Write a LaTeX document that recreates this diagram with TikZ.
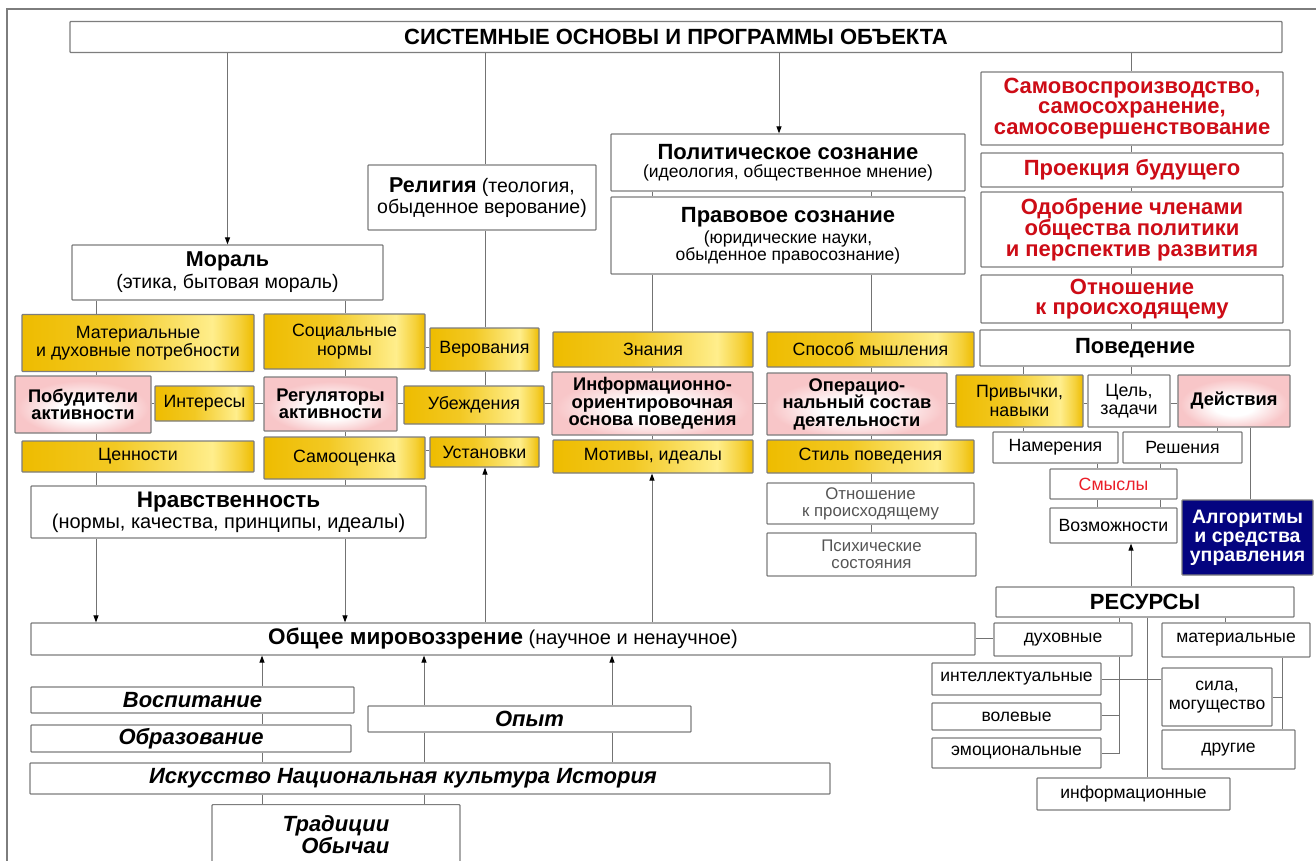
\documentclass[tikz,border=0pt]{standalone}
\usepackage{fontspec}
\setmainfont{Liberation Sans}
\usetikzlibrary{arrows.meta}
\definecolor{bordc}{RGB}{125,125,125}
\definecolor{linec}{RGB}{115,115,115}
\definecolor{goldA}{RGB}{238,188,0}
\definecolor{goldB}{RGB}{255,238,140}
\definecolor{pinkA}{RGB}{248,198,200}
\definecolor{redt}{RGB}{205,12,22}
\definecolor{reds}{RGB}{235,30,40}
\definecolor{navyc}{RGB}{4,4,128}
\definecolor{grayt}{RGB}{85,85,85}
\pgfdeclarehorizontalshading{goldsh}{100bp}{color(0bp)=(goldA); color(25bp)=(goldA); color(45bp)=(goldA!75!goldB); color(66bp)=(goldB); color(72bp)=(goldA!60!goldB); color(75bp)=(goldA); color(100bp)=(goldA)}
\pgfdeclareradialshading{pinksh}{\pgfpoint{0bp}{-6bp}}{color(0bp)=(white); color(9bp)=(white); color(24bp)=(pinkA); color(50bp)=(pinkA)}
\tikzset{
  base/.style={draw=bordc, line width=1.2pt, inner sep=1pt, align=center, text=black, rounded corners=0.8pt},
  wbox/.style={base, fill=white},
  gbox/.style={base, shading=goldsh},
  pbox/.style={base, shading=pinksh},
  nbox/.style={base, fill=navyc, text=white},
  ln/.style={draw=linec, line width=1pt},
  arr/.style={ln, -{Triangle[length=7pt,width=5pt,color=black]}},
  fA/.style={font=\fontsize{22}{23}\selectfont\bfseries},
  fB/.style={font=\fontsize{22}{20.5}\selectfont\bfseries},
  fG/.style={font=\fontsize{17.8}{18.5}\selectfont},
  fP/.style={font=\fontsize{18.3}{17.5}\selectfont\bfseries},
  fS/.style={font=\fontsize{17.7}{19}\selectfont},
  fT/.style={font=\fontsize{17.5}{19}\selectfont},
  fU/.style={font=\fontsize{16.8}{17}\selectfont},
  fI/.style={font=\fontsize{22}{20.5}\selectfont\bfseries\itshape},
}
\begin{document}
\begin{tikzpicture}[x=1pt,y=-1pt]
\useasboundingbox (0,0) rectangle (1316,861);
\clip (0,0) rectangle (1316,861);
\fill[white] (0,0) rectangle (1316,861);
\draw[line width=2pt, color=bordc] (7,870) -- (7,9) -- (1320,9);

% ---------- nodes ----------
\node[wbox, fA, minimum width=1212, minimum height=31] (title) at (676,37) {СИСТЕМНЫЕ ОСНОВЫ И ПРОГРАММЫ ОБЪЕКТА};

\node[wbox, font=\fontsize{19.5}{21}\selectfont, minimum width=228, minimum height=65] (rel) at (482,197.5) {{\fontsize{21.5}{21}\selectfont\bfseries Религия} (теология,\\обыденное верование)};

\node[wbox, font=\fontsize{17.5}{18}\selectfont, minimum width=354, minimum height=57] (pol) at (788,162.5) {{\fontsize{22}{20}\selectfont\bfseries Политическое сознание}\\(идеология, общественное мнение)};
\node[wbox, font=\fontsize{17.5}{16.5}\selectfont, minimum width=354, minimum height=77] (pravo) at (788,235.5) {{\fontsize{22}{20}\selectfont\bfseries Правовое сознание}\\[3pt](юридические науки,\\обыденное правосознание)};

\node[wbox, fB, text=redt, minimum width=302, minimum height=73] (sam) at (1132,108.5) {Самовоспроизводство,\\самосохранение,\\самосовершенствование};
\node[wbox, fB, text=redt, minimum width=302, minimum height=34] (proj) at (1132,170) {Проекция будущего};
\node[wbox, fB, text=redt, minimum width=302, minimum height=75] (odob) at (1132,229.5) {Одобрение членами\\общества политики\\и перспектив развития};
\node[wbox, fB, text=redt, minimum width=302, minimum height=48] (otn) at (1132,299) {Отношение\\к происходящему};
\node[wbox, fB, minimum width=310, minimum height=36] (pov) at (1135,348) {Поведение};

\node[wbox, font=\fontsize{19.5}{22}\selectfont, minimum width=311, minimum height=55] (mor) at (227.5,272.5) {{\fontsize{21.5}{22}\selectfont\bfseries Мораль}\\(этика, бытовая мораль)};

\node[gbox, fG, minimum width=232, minimum height=57] (mat) at (138,343) {Материальные\\и духовные потребности};
\node[gbox, fG, minimum width=161, minimum height=55] (soc) at (344.5,341.5) {Социальные\\нормы};
\node[gbox, fG, minimum width=109, minimum height=43] (ver) at (484.5,349.5) {Верования};
\node[pbox, fP, minimum width=136, minimum height=57] (pob) at (83,404.5) {Побудители\\активности};
\node[gbox, fG, minimum width=99, minimum height=35] (int) at (204.5,403.5) {Интересы};
\node[pbox, fP, minimum width=133, minimum height=54] (reg) at (330.5,404) {Регуляторы\\активности};
\node[gbox, fG, minimum width=140, minimum height=38] (ube) at (474,405) {Убеждения};
\node[gbox, fG, minimum width=232, minimum height=31] (cen) at (138,456.5) {Ценности};
\node[gbox, fG, minimum width=161, minimum height=42] (samo) at (344.5,458) {Самооценка};
\node[gbox, fG, minimum width=109, minimum height=30] (ust) at (484.5,452) {Установки};
\node[wbox, font=\fontsize{20}{21}\selectfont, minimum width=395, minimum height=52] (nrav) at (228.5,512) {{\fontsize{22.5}{21}\selectfont\bfseries Нравственность}\\(нормы, качества, принципы, идеалы)};

\node[gbox, fG, minimum width=200, minimum height=35] (zn) at (653,349.5) {Знания};
\node[pbox, fP, minimum width=201, minimum height=63] (info) at (652.5,403.5) {Информационно-\\ориентировочная\\основа поведения};
\node[gbox, fG, minimum width=200, minimum height=33] (mot) at (653,456.5) {Мотивы, идеалы};
\node[gbox, fG, minimum width=207, minimum height=35] (spos) at (870.5,349.5) {Способ мышления};
\node[pbox, fP, minimum width=180, minimum height=62] (oper) at (857,404) {Операцио-\\нальный состав\\деятельности};
\node[gbox, fG, minimum width=207, minimum height=33] (stil) at (870.5,456.5) {Стиль поведения};
\node[wbox, fU, text=grayt, minimum width=207, minimum height=41] (otn2) at (870.5,503.5) {Отношение\\к происходящему};
\node[wbox, fU, text=grayt, minimum width=209, minimum height=43] (psi) at (871.5,554.5) {Психические\\состояния};

\node[gbox, fG, minimum width=127, minimum height=52] (priv) at (1019.5,401) {Привычки,\\навыки};
\node[wbox, fG, minimum width=82, minimum height=52] (cel) at (1129,401) {Цель,\\задачи};
\node[pbox, fP, minimum width=112, minimum height=52] (dej) at (1234,401) {Действия};
\node[wbox, fS, minimum width=125, minimum height=31] (nam) at (1055.5,447.5) {Намерения};
\node[wbox, fS, minimum width=119, minimum height=31] (resh) at (1182.5,447.5) {Решения};
\node[wbox, fS, text=reds, minimum width=127, minimum height=30] (sm) at (1113.5,484) {Смыслы};
\node[wbox, fS, minimum width=127, minimum height=35] (voz) at (1113.5,525.5) {Возможности};
\node[nbox, font=\fontsize{19.5}{19}\selectfont\bfseries, minimum width=131, minimum height=75] (alg) at (1247.5,537.5) {Алгоритмы\\и средства\\управления};

\node[wbox, fB, minimum width=298, minimum height=30] (res) at (1145,602) {РЕСУРСЫ};
\node[wbox, fT, minimum width=138, minimum height=33] (dux) at (1063,639.5) {духовные};
\node[wbox, fT, minimum width=148, minimum height=34] (matr) at (1236,640) {материальные};
\node[wbox, fT, minimum width=169, minimum height=32] (intel) at (1016.5,679) {интеллектуальные};
\node[wbox, fT, minimum width=169, minimum height=27] (vol) at (1016.5,716.5) {волевые};
\node[wbox, fT, minimum width=169, minimum height=30] (emo) at (1016.5,753) {эмоциональные};
\node[wbox, fT, minimum width=110, minimum height=58] (sila) at (1217,697) {сила,\\могущество};
\node[wbox, fT, minimum width=133, minimum height=39] (drug) at (1228.5,749.5) {другие};
\node[wbox, fT, minimum width=193, minimum height=32] (infm) at (1133.5,794) {информационные};

\node[wbox, font=\fontsize{20}{21}\selectfont, minimum width=944, minimum height=32] (ob) at (503,639) {{\fontsize{22.5}{21}\selectfont\bfseries Общее мировоззрение} (научное и ненаучное)};
\node[wbox, fI, minimum width=323, minimum height=26] (vosp) at (192.5,700) {Воспитание};
\node[wbox, fI, minimum width=320, minimum height=27] (obr) at (191,738.5) {Образование};
\node[wbox, fI, minimum width=323, minimum height=26] (opyt) at (529.5,719) {Опыт};
\node[wbox, fI, minimum width=800, minimum height=31] (isk) at (430,778.5) {\hspace*{-54pt}Искусство Национальная культура История};
\node[wbox, fI, minimum width=248, minimum height=60, align=right, anchor=north] (trad) at (336,804) {Традиции\\Обычаи};

% ---------- x / y guides ----------
\coordinate (xa) at (96,0);
\coordinate (xb) at (345,0);
\coordinate (xc) at (485,0);
\coordinate (xd) at (652,0);
\coordinate (xe) at (871,0);
\coordinate (xf) at (779,0);
\coordinate (xg) at (1131,0);
\coordinate (xh) at (1023,0);
\coordinate (xi) at (1217,0);
\coordinate (xj) at (1097,0);
\coordinate (xk) at (1160,0);
\coordinate (xl) at (1250,0);
\coordinate (xm) at (1119,0);
\coordinate (xn) at (1147,0);
\coordinate (xo) at (1225,0);
\coordinate (xp) at (1282,0);
\coordinate (xq) at (262,0);
\coordinate (xr) at (424,0);
\coordinate (xs) at (612,0);
\coordinate (ya) at (0,403);
\coordinate (yb) at (0,347);
\coordinate (yc) at (0,450);
\coordinate (yd) at (0,638);
\coordinate (ye) at (0,715);
\coordinate (yf) at (0,753);
\coordinate (yg) at (0,679);
\coordinate (yh) at (0,697);

% ---------- connectors ----------
\draw[arr] (title.south -| mor.north) -- (mor.north);
\draw[ln] (title.south -| xc) -- (rel.north -| xc);
\draw[ln] (rel.south -| xc) -- (ver.north -| xc);
\draw[ln] (ver.south -| xc) -- (ube.north -| xc);
\draw[ln] (ube.south -| xc) -- (ust.north -| xc);
\draw[arr] (ob.north -| xc) -- (ust.south -| xc);
\draw[arr] (title.south -| xf) -- (pol.north -| xf);
\draw[ln] (title.south -| xg) -- (sam.north -| xg);
\draw[ln] (sam.south -| xg) -- (proj.north -| xg);
\draw[ln] (proj.south -| xg) -- (odob.north -| xg);
\draw[ln] (odob.south -| xg) -- (otn.north -| xg);
\draw[ln] (otn.south -| xg) -- (pov.north -| xg);
\draw[ln] (pol.south -| xd) -- (pravo.north -| xd);
\draw[ln] (pol.south -| xe) -- (pravo.north -| xe);
\draw[ln] (pravo.south -| xd) -- (zn.north -| xd);
\draw[ln] (zn.south -| xd) -- (info.north -| xd);
\draw[ln] (info.south -| xd) -- (mot.north -| xd);
\draw[arr] (ob.north -| xd) -- (mot.south -| xd);
\draw[ln] (pravo.south -| xe) -- (spos.north -| xe);
\draw[ln] (spos.south -| xe) -- (oper.north -| xe);
\draw[ln] (oper.south -| xe) -- (stil.north -| xe);
\draw[ln] (stil.south -| xe) -- (otn2.north -| xe);
\draw[ln] (otn2.south -| xe) -- (psi.north -| xe);
\draw[ln] (mor.south -| xa) -- (mat.north -| xa);
\draw[ln] (mat.south -| xa) -- (pob.north -| xa);
\draw[ln] (pob.south -| xa) -- (cen.north -| xa);
\draw[ln] (cen.south -| xa) -- (nrav.north -| xa);
\draw[ln] (mor.south -| xb) -- (soc.north -| xb);
\draw[ln] (soc.south -| xb) -- (reg.north -| xb);
\draw[ln] (reg.south -| xb) -- (samo.north -| xb);
\draw[ln] (samo.south -| xb) -- (nrav.north -| xb);
\draw[arr] (nrav.south -| xa) -- (ob.north -| xa);
\draw[arr] (nrav.south -| xb) -- (ob.north -| xb);
\draw[ln] (pob.east |- ya) -- (int.west |- ya);
\draw[ln] (int.east |- ya) -- (reg.west |- ya);
\draw[ln] (reg.east |- ya) -- (ube.west |- ya);
\draw[ln] (ube.east |- ya) -- (info.west |- ya);
\draw[ln] (info.east |- ya) -- (oper.west |- ya);
\draw[ln] (oper.east |- ya) -- (priv.west |- ya);
\draw[ln] (priv.east |- ya) -- (cel.west |- ya);
\draw[ln] (cel.east |- ya) -- (dej.west |- ya);
\draw[ln] (soc.east |- yb) -- (ver.west |- yb);
\draw[ln] (samo.east |- yc) -- (ust.west |- yc);
\draw[ln] (pov.south -| xh) -- (priv.north -| xh);
\draw[ln] (pov.south -| xg) -- (cel.north -| xg);
\draw[ln] (priv.south -| xh) -- (nam.north -| xh);
\draw[ln] (dej.south -| xi) -- (resh.north -| xi);
\draw[ln] (nam.south -| xj) -- (sm.north -| xj);
\draw[ln] (resh.south -| xk) -- (sm.north -| xk);
\draw[ln] (sm.south -| xj) -- (voz.north -| xj);
\draw[ln] (sm.south -| xk) -- (voz.north -| xk);
\draw[ln] (dej.south -| xl) -- (alg.north -| xl);
\draw[arr] (res.north -| xg) -- (voz.south -| xg);
\draw[ln] (ob.east |- yd) -- (dux.west |- yd);
\draw[ln] (res.south -| xm) -- (dux.north -| xm);
\draw[ln] (res.south -| xn) -- (infm.north -| xn);
\draw[ln] (res.south -| xo) -- (matr.north -| xo);
\draw[ln] (dux.south -| xm) -- (xm |- yf) -- (emo.east |- yf);
\draw[ln] (vol.east |- ye) -- (xm |- ye);
\draw[ln] (intel.east |- yg) -- (sila.west |- yg);
\draw[ln] (matr.south -| xp) -- (drug.north -| xp);
\draw[ln] (sila.east |- yh) -- (xp |- yh);
\draw[arr] (vosp.north -| xq) -- (ob.south -| xq);
\draw[ln] (vosp.south -| xq) -- (obr.north -| xq);
\draw[ln] (obr.south -| xq) -- (isk.north -| xq);
\draw[ln] (isk.south -| xq) -- (trad.north -| xq);
\draw[arr] (opyt.north -| xr) -- (ob.south -| xr);
\draw[arr] (opyt.north -| xs) -- (ob.south -| xs);
\draw[ln] (isk.north -| xr) -- (opyt.south -| xr);
\draw[ln] (isk.north -| xs) -- (opyt.south -| xs);
\draw[ln] (isk.south -| xr) -- (trad.north -| xr);
\end{tikzpicture}
\end{document}
